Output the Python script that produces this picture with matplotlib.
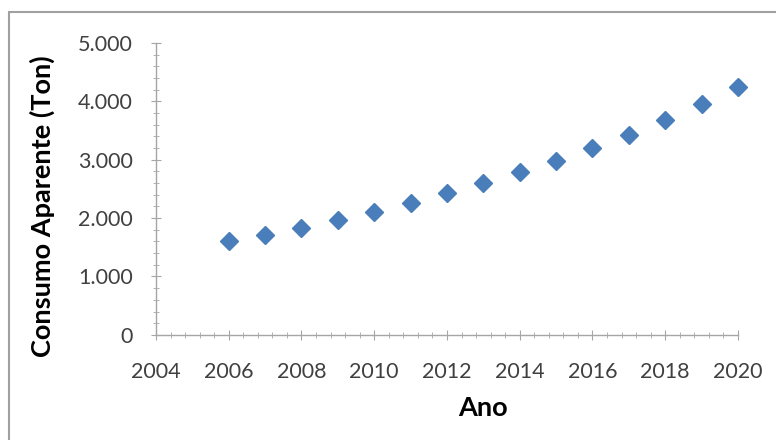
import matplotlib.pyplot as plt
from matplotlib.ticker import FuncFormatter, MultipleLocator
from matplotlib.patches import Rectangle

anos = [2006, 2007, 2008, 2009, 2010, 2011, 2012, 2013, 2014, 2015, 2016, 2017, 2018, 2019, 2020]
consumo = [1600, 1710, 1830, 1960, 2105, 2255, 2425, 2595, 2790, 2980, 3195, 3430, 3690, 3955, 4240]

plt.rcParams['font.family'] = ['Lato', 'DejaVu Sans']

fig = plt.figure(figsize=(7.76, 4.4), dpi=100)
ax = fig.add_axes([0.201, 0.239, 0.750, 0.663])

ax.plot(anos, consumo, linestyle="none", marker="D", markersize=9,
        color="#4A7EBB", markeredgecolor="#4A7EBB", clip_on=False)

ax.set_xlim(2004, 2020)
ax.set_ylim(0, 5000)
ax.xaxis.set_major_locator(MultipleLocator(2))
ax.xaxis.set_minor_locator(MultipleLocator(0.4))
ax.yaxis.set_major_locator(MultipleLocator(1000))
ax.yaxis.set_minor_locator(MultipleLocator(200))
ax.yaxis.set_major_formatter(FuncFormatter(lambda v, p: f"{int(v):,}".replace(",", ".")))

for s in ["top", "right"]:
    ax.spines[s].set_visible(False)
for s in ["left", "bottom"]:
    ax.spines[s].set_color("#A6A6A6")
    ax.spines[s].set_linewidth(1.0)

ax.tick_params(which="major", direction="inout", length=7, color="#A6A6A6",
               labelsize=15.5, labelcolor="#404040")
ax.tick_params(axis="x", which="major", pad=16)
ax.tick_params(axis="y", which="major", pad=13)
ax.tick_params(which="minor", direction="inout", length=4, color="#A6A6A6")

ax.set_xlabel("Ano", fontsize=19.5, fontweight="bold", va="center")
ax.set_ylabel("Consumo Aparente (Ton)", fontsize=19.5, fontweight="bold", va="center")
ax.xaxis.set_label_coords(0.562, -0.25)
ax.yaxis.set_label_coords(-0.196, 0.442)

# chart frame
fig.patches.append(Rectangle((9 / 776, -0.05), 1.1, 1 - 12 / 440 + 0.05,
                             transform=fig.transFigure, fill=False,
                             edgecolor="#A0A0A0", linewidth=1.5))

fig.savefig("out.png", dpi=100)
